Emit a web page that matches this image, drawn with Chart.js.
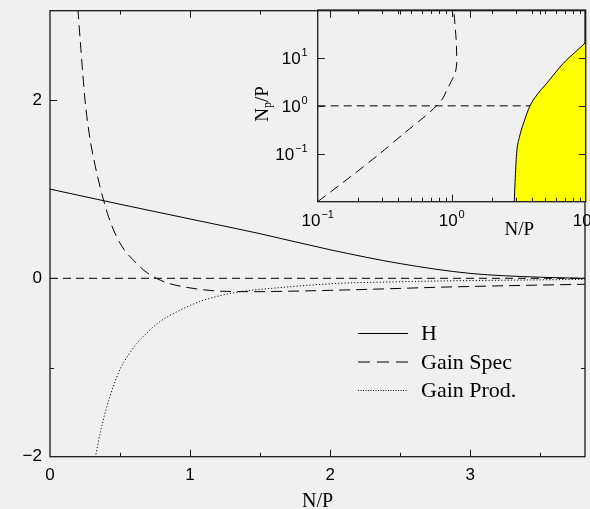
<!DOCTYPE html>
<html lang="en">
<head>
<meta charset="UTF-8">
<title>H, Gain Spec, Gain Prod vs N/P</title>
<script src="https://cdn.jsdelivr.net/npm/chart.js"></script>
<style>
  body { margin: 0; background: #f0f0f0; }
  #wrap { position: relative; width: 590px; height: 509px; overflow: hidden; }
  #mainBox { position: absolute; left: 0; top: 0; width: 590px; height: 509px; }
  #insetBox { position: absolute; left: 240px; top: 0; width: 350px; height: 240px; }
</style>
</head>
<body>
<div id="wrap">
  <div id="mainBox"><canvas id="mainChart"></canvas></div>
  <div id="insetBox"><canvas id="insetChart"></canvas></div>
</div>
<script>
// ---- main panel data ----
const hX = [0, 0.5, 1.0, 1.5, 2.0, 2.5, 3.0, 3.5, 3.82];
const hY = [1.0, 0.83, 0.665, 0.5, 0.32, 0.165, 0.055, 0.012, 0.0];

const specX = [0.19, 0.2, 0.22, 0.25, 0.28, 0.32, 0.36, 0.38, 0.42, 0.476, 0.53, 0.595, 0.67, 0.76, 0.85, 0.95, 1.05, 1.19, 1.3, 1.43, 1.7, 2.0, 2.4, 2.78, 3.2, 3.82];
const specY = [3.22, 3.0, 2.58, 2.0, 1.62, 1.28, 1.01, 0.89, 0.68, 0.465, 0.32, 0.204, 0.09, 0.0, -0.058, -0.094, -0.12, -0.142, -0.148, -0.15, -0.145, -0.135, -0.118, -0.1, -0.085, -0.067];

const prodX = [0.315, 0.36, 0.4, 0.45, 0.5, 0.56, 0.62, 0.7, 0.785, 0.9, 1.07, 1.2, 1.36, 1.6, 2.07, 2.4, 2.78, 3.35, 3.82];
const prodY = [-2.08, -1.72, -1.47, -1.22, -1.02, -0.86, -0.73, -0.6, -0.485, -0.38, -0.26, -0.2, -0.15, -0.11, -0.056, -0.042, -0.03, -0.02, -0.012];

const zeroX = [0, 3.82];
const zeroY = [0, 0];

const xTickValues = [0, 0.5, 1, 1.5, 2, 2.5, 3, 3.5];
const xTickLabels = ['0', '', '1', '', '2', '', '3', ''];
const yTickValues = [-2, -1, 0, 1, 2, 3];
const yTickLabels = ['\u22122', '', '0', '', '2', ''];

// ---- inset data (log-log) ----
const curveX = [0.1, 0.18, 0.29, 0.45, 0.62, 0.77, 0.86, 0.92, 0.99, 1.06, 1.09, 1.09, 1.08, 1.06, 1.04, 1.03];
const curveY = [0.01, 0.035, 0.1, 0.28, 0.58, 1.0, 1.45, 2.15, 3.2, 4.8, 7.5, 10.7, 23.7, 45, 86, 100];

const regionX = [2.93, 2.97, 3.05, 3.2, 3.45, 3.84, 4.4, 5.12, 6.8, 8.3, 10];
const regionY = [0.01, 0.025, 0.1, 0.22, 0.45, 1.0, 1.8, 2.96, 7.7, 13, 21];

const unityX = [0.1, 10];
const unityY = [1, 1];

const insetTicks = [0.1, 1, 10];
const insetTickExp = ['\u22121', '0', '1'];
const insetMinorX = [0.2, 0.3, 0.4, 0.5, 0.6, 0.7, 0.8, 0.9, 2, 3, 4, 5, 6, 7, 8, 9];

const pts = (xs, ys) => xs.map((x, i) => ({ x: x, y: ys[i] }));

const SANS = 'Liberation Sans, Arial, sans-serif';
const SERIF = 'Liberation Serif, Times New Roman, serif';

// ticks pointing into the plot on all four sides, plus the frame
const innerTicks = {
  id: 'innerTicks',
  afterDatasetsDraw(chart, args, opts) {
    const ctx = chart.ctx, a = chart.chartArea;
    ctx.save();
    ctx.strokeStyle = '#1a1a1a';
    ctx.lineWidth = 1;
    ctx.beginPath();
    Object.values(chart.scales).forEach(s => {
      let list = s.ticks.map(t => ({ value: t.value, major: !!t.label }));
      if (opts.majorAll) list = list.map(t => ({ value: t.value, major: true }));
      const extra = (opts.minor || {})[s.id] || [];
      list = list.concat(extra.map(v => ({ value: v, major: false })));
      list.forEach(t => {
        const p = Math.round(s.getPixelForValue(t.value)) + 0.5;
        const len = t.major ? opts.majorLen : opts.minorLen;
        if (s.isHorizontal()) {
          if (p <= a.left + 1 || p >= a.right - 1) return;
          ctx.moveTo(p, a.bottom); ctx.lineTo(p, a.bottom - len);
          ctx.moveTo(p, a.top); ctx.lineTo(p, a.top + len);
        } else {
          if (p <= a.top + 1 || p >= a.bottom - 1) return;
          ctx.moveTo(a.left, p); ctx.lineTo(a.left + len, p);
          ctx.moveTo(a.right, p); ctx.lineTo(a.right - len, p);
        }
      });
    });
    ctx.stroke();
    ctx.lineWidth = 1.3;
    ctx.strokeRect(a.left, a.top, a.right - a.left, a.bottom - a.top);
    ctx.restore();
  }
};

// line samples with labels, drawn inside the main plot
const lineKey = {
  id: 'lineKey',
  afterDraw(chart, args, opts) {
    if (!opts.items) return;
    const ctx = chart.ctx;
    ctx.save();
    ctx.font = '22px ' + SERIF;
    ctx.fillStyle = '#000';
    ctx.textBaseline = 'middle';
    opts.items.forEach((idx, i) => {
      const ds = chart.data.datasets[idx];
      const y = opts.y + i * opts.gap + 0.5;
      ctx.strokeStyle = ds.borderColor;
      ctx.lineWidth = 1;
      ctx.setLineDash(opts.dash[i]);
      ctx.beginPath();
      ctx.moveTo(opts.x, y);
      ctx.lineTo(opts.x + opts.len, y);
      ctx.stroke();
      ctx.setLineDash([]);
      ctx.fillText(ds.label, opts.x + opts.len + 13, y + 1);
    });
    ctx.restore();
  }
};

// "10^n" tick labels and axis titles of the inset
const powerLabels = {
  id: 'powerLabels',
  afterDraw(chart, args, opts) {
    if (!opts.on) return;
    const ctx = chart.ctx, a = chart.chartArea;
    const xs = chart.scales.x, ys = chart.scales.y;
    ctx.save();
    ctx.fillStyle = '#000';
    ctx.textBaseline = 'alphabetic';
    const draw = (v, i, px, py, alignRight) => {
      ctx.font = '17px ' + SANS;
      const wBase = ctx.measureText('10').width;
      ctx.font = '11px ' + SANS;
      const wExp = ctx.measureText(insetTickExp[i]).width;
      const w = wBase + wExp + 1;
      const left = alignRight ? px - w : px - w / 2;
      ctx.font = '17px ' + SANS;
      ctx.fillText('10', left, py);
      ctx.font = '11px ' + SANS;
      ctx.fillText(insetTickExp[i], left + wBase + 1, py - 8);
    };
    insetTicks.forEach((v, i) => {
      draw(v, i, xs.getPixelForValue(v), a.bottom + 24, false);
      draw(v, i, a.left - 10, ys.getPixelForValue(v) + 6, true);
    });
    // x title
    ctx.font = '19px ' + SERIF;
    ctx.textAlign = 'center';
    ctx.fillText('N/P', xs.getPixelForValue(3.2), a.bottom + 33);
    // y title, rotated, with subscript p
    ctx.translate(a.left - 57, ys.getPixelForValue(1) - 2);
    ctx.rotate(-Math.PI / 2);
    ctx.textAlign = 'left';
    ctx.font = '19px ' + SERIF;
    const wN = ctx.measureText('N').width;
    ctx.font = '12px ' + SERIF;
    const wp = ctx.measureText('p').width;
    ctx.font = '19px ' + SERIF;
    const wR = ctx.measureText('/P').width;
    const start = -(wN + wp + wR) / 2;
    ctx.fillText('N', start, 7);
    ctx.font = '12px ' + SERIF;
    ctx.fillText('p', start + wN, 10);
    ctx.font = '19px ' + SERIF;
    ctx.fillText('/P', start + wN + wp, 7);
    ctx.restore();
  }
};

Chart.register(innerTicks, lineKey, powerLabels);

new Chart(document.getElementById('mainChart'), {
  type: 'scatter',
  data: {
    datasets: [
      { label: 'H', data: pts(hX, hY), showLine: true, borderColor: '#000', borderWidth: 1, cubicInterpolationMode: 'monotone' },
      { label: 'Gain Spec', data: pts(specX, specY), showLine: true, borderColor: '#000', borderWidth: 1, borderDash: [11, 6], cubicInterpolationMode: 'monotone' },
      { label: 'Gain Prod.', data: pts(prodX, prodY), showLine: true, borderColor: '#111', borderWidth: 1, borderDash: [1.2, 2], cubicInterpolationMode: 'monotone' },
      { label: 'zero', data: pts(zeroX, zeroY), showLine: true, borderColor: '#000', borderWidth: 1, borderDash: [8, 5] }
    ]
  },
  options: {
    responsive: true,
    maintainAspectRatio: false,
    animation: false,
    layout: { padding: { top: 10.7, right: 5, left: 0, bottom: 0 } },
    elements: { point: { radius: 0, hoverRadius: 0 } },
    plugins: {
      legend: { display: false },
      tooltip: { enabled: false },
      innerTicks: { majorLen: 7, minorLen: 4 },
      lineKey: { items: [0, 1, 2], x: 358, y: 333, gap: 28.5, len: 50, dash: [[], [12, 7], [1, 1.5]] },
      powerLabels: { on: false }
    },
    scales: {
      x: {
        type: 'linear', min: 0, max: 3.82,
        grid: { display: false }, border: { display: false },
        afterBuildTicks: s => { s.ticks = xTickValues.map(v => ({ value: v })); },
        afterFit: s => { s.height = 52.3; },
        ticks: {
          autoSkip: false, maxRotation: 0, padding: 0, color: '#000',
          font: { family: SANS, size: 17 },
          callback: (v, i) => xTickLabels[i]
        },
        title: {
          display: true, text: 'N/P', color: '#000',
          font: { family: SERIF, size: 20, lineHeight: 1 },
          padding: { top: 0, bottom: -3 }
        }
      },
      y: {
        type: 'linear', min: -2, max: 3,
        grid: { display: false }, border: { display: false },
        afterBuildTicks: s => { s.ticks = yTickValues.map(v => ({ value: v })); },
        afterFit: s => { s.width = 50; },
        ticks: {
          autoSkip: false, padding: 0, color: '#000',
          font: { family: SANS, size: 17, lineHeight: 0.3 },
          callback: (v, i) => yTickLabels[i]
        }
      }
    }
  }
});

new Chart(document.getElementById('insetChart'), {
  type: 'scatter',
  data: {
    datasets: [
      { label: 'region', data: pts(regionX, regionY), showLine: true, borderColor: '#000', borderWidth: 1, backgroundColor: '#ffff00', fill: 'start', cubicInterpolationMode: 'monotone' },
      { label: 'curve', data: pts(curveX, curveY), showLine: true, borderColor: '#000', borderWidth: 1, borderDash: [10, 6], tension: 0.3 },
      { label: 'unity', data: pts(unityX, unityY), showLine: true, borderColor: '#000', borderWidth: 1, borderDash: [8, 5] }
    ]
  },
  options: {
    responsive: true,
    maintainAspectRatio: false,
    animation: false,
    layout: { padding: { top: 10, right: 4.3, left: 0, bottom: 0 } },
    elements: { point: { radius: 0, hoverRadius: 0 } },
    plugins: {
      legend: { display: false },
      tooltip: { enabled: false },
      innerTicks: { majorLen: 7, minorLen: 4, majorAll: true, minor: { x: insetMinorX } },
      lineKey: {},
      powerLabels: { on: true }
    },
    scales: {
      x: {
        type: 'logarithmic', min: 0.1, max: 10,
        grid: { display: false }, border: { display: false },
        afterBuildTicks: s => { s.ticks = insetTicks.map(v => ({ value: v })); },
        afterFit: s => { s.height = 38.3; },
        ticks: { display: false }
      },
      y: {
        type: 'logarithmic', min: 0.01, max: 100,
        grid: { display: false }, border: { display: false },
        afterBuildTicks: s => { s.ticks = insetTicks.map(v => ({ value: v })); },
        afterFit: s => { s.width = 77.7; },
        ticks: { display: false }
      }
    }
  }
});
</script>
</body>
</html>
